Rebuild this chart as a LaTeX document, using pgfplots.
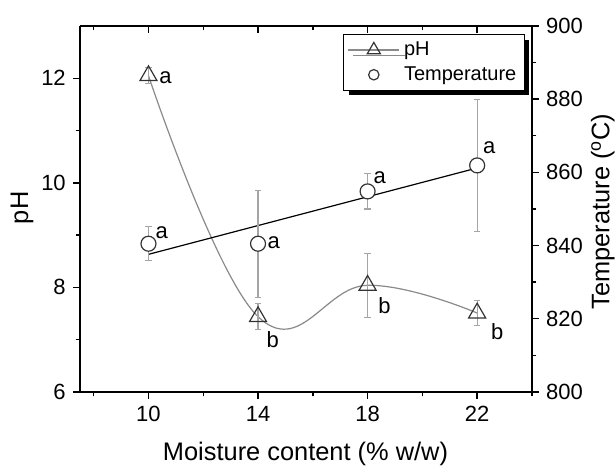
\documentclass[border=0pt]{standalone}
\usepackage{fontspec}
\setmainfont{Liberation Sans}
\usepackage{pgfplots}
\pgfplotsset{compat=1.18}
\usetikzlibrary{shadows}

\definecolor{phline}{HTML}{8A8A8A}
\definecolor{ebgray}{HTML}{A5A5A5}
\definecolor{mk}{HTML}{333333}

\pgfplotsset{
  base/.style={
    scale only axis, width=226pt, height=183pt,
    xmin=7.5, xmax=24,
    tick label style={font=\fontsize{11}{13}\selectfont},
    label style={font=\fontsize{12.7}{15}\selectfont, inner sep=0pt},
    /pgf/number format/assume math mode=true,
    major tick length=3.6pt, minor tick length=2.2pt,
    tick style={black, line width=0.7pt},
    axis line style={line width=0.8pt},
  },
  ebars/.style={
    error bars/y dir=both, error bars/y explicit,
    error bars/error bar style={ebgray, line width=0.6pt},
    error bars/error mark options={rotate=90, ebgray, mark size=1.6pt, line width=0.6pt},
  },
}
\tikzset{lbl/.style={font=\fontsize{11}{13}\selectfont, inner sep=0pt, anchor=center}}

\begin{document}
\begin{tikzpicture}
% left axis: pH
\begin{axis}[base,
  axis x line*=bottom, axis y line*=left,
  tick align=outside,
  ymin=6, ymax=13,
  ytick={6,8,10,12}, minor ytick={7,9,11},
  xtick={10,14,18,22}, minor xtick={8,12,16,20,24},
  xlabel={Moisture content (\% w/w)}, ylabel={pH},
  xlabel style={at={(rel axis cs:0.499,-0.169)}, anchor=center},
  ylabel style={at={(rel axis cs:-0.128,0.503)}, anchor=center, rotate=0},
  clip=false,
]
\addplot[phline, line width=0.6pt, smooth, tension=0.7, no marks]
  coordinates {(10,12.05) (14,7.44) (18,8.04) (22,7.51)};
\addplot[only marks, mark=triangle, mark size=4.9pt,
  mark options={draw=mk, fill=white, line width=0.6pt}, ebars]
  coordinates {
    (10,12.05) +- (0,0.15)
    (14,7.44)  +- (0,0.25)
    (18,8.04)  +- (0,0.61)
    (22,7.51)  +- (0,0.24)
  };
\node[lbl] at (axis cs:10.62,12.02) {a};
\node[lbl] at (axis cs:14.54,7.01) {b};
\node[lbl] at (axis cs:18.62,7.66) {b};
\node[lbl] at (axis cs:22.73,7.15) {b};
\end{axis}

% right axis: temperature
\begin{axis}[base,
  axis x line=none, axis y line*=right,
  tick align=outside,
  ymin=800, ymax=900,
  ytick={800,820,840,860,880,900}, minor ytick={810,830,850,870,890},
  ylabel={Temperature (\textsuperscript{o}C)},
  ylabel style={at={(rel axis cs:1.157,0.493)}, anchor=center},
  clip=false,
  legend cell align=left,
  legend style={at={(rel axis cs:0.582,0.978)}, anchor=north west,
    draw=black, line width=0.6pt, fill=white,
    font=\fontsize{10}{12}\selectfont,
    row sep=0pt, inner xsep=2pt, inner ysep=1.5pt,
    drop shadow={shadow xshift=2.6pt, shadow yshift=-2.6pt, fill=black, opacity=1}},
  legend image code/.code={%
    \draw[mark repeat=2, mark phase=2] plot coordinates {(0cm,0cm) (0.45cm,0cm) (0.9cm,0cm)};},
]
\addlegendimage{phline, line width=0.6pt, mark=triangle, mark size=3.8pt,
  mark options={draw=mk, fill=white, solid}}
\addlegendentry{pH}
\addlegendimage{mark=o, mark size=2.6pt, mark options={draw=mk, line width=0.6pt},
  legend image code/.code={\draw plot[only marks] coordinates {(0.45cm,0cm)};}}
\addlegendentry{Temperature}

\addplot[black, line width=0.6pt, no marks, forget plot]
  coordinates {(10,837.6) (22,861.2)};
\addplot[only marks, mark=*, mark size=3.75pt, forget plot,
  mark options={draw=mk, fill=white, line width=0.6pt}, ebars]
  coordinates {
    (10,840.5) +- (0,4.6)
    (14,840.5) +- (0,14.6)
    (18,854.8) +- (0,4.8)
    (22,861.9) +- (0,18.0)
  };
\node[lbl] at (axis cs:10.48,843.6) {a};
\node[lbl] at (axis cs:14.57,840.9) {a};
\node[lbl] at (axis cs:18.44,858.6) {a};
\node[lbl] at (axis cs:22.44,866.8) {a};
\coordinate (bbSW) at (rel axis cs:-0.177,-0.202);
\coordinate (bbNE) at (rel axis cs:1.186,1.071);
\end{axis}

% top axis line with inward ticks
\begin{axis}[base,
  axis x line*=top, hide y axis,
  tick align=inside,
  ymin=0, ymax=1,
  xtick={10,14,18,22}, minor xtick={8,12,16,20,24},
  xticklabels={},
]
\end{axis}
\pgfresetboundingbox
\useasboundingbox (bbSW) rectangle (bbNE);
\end{tikzpicture}
\end{document}
